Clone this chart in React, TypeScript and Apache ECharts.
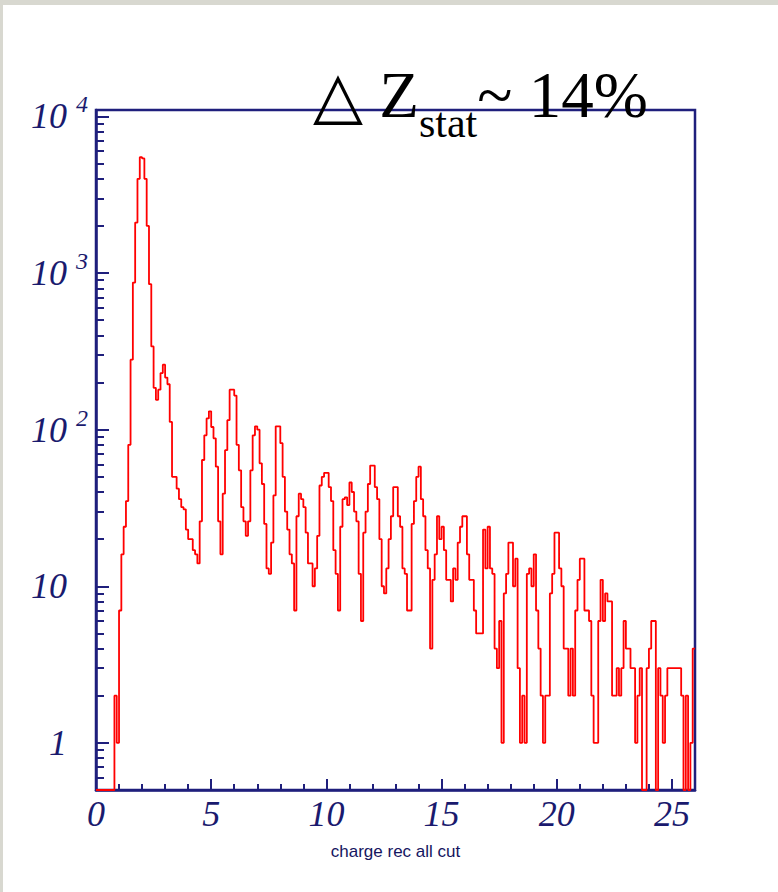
import React, { useEffect, useRef } from "react";
import * as echarts from "echarts";

// Histogram of reconstructed charge, bins of width 0.1 from 0 to 26
const BIN_WIDTH = 0.1;
const X_MIN = 0;
const X_MAX = 26;
const Y_MIN = 0.5;
const Y_MAX = 11000;

const countsZ0to5 = [
  0, 0, 0, 0, 0, 0, 0, 0, 2, 1,
  7, 16, 24, 35, 80, 280, 870, 2100, 4000, 5500,
  5400, 4000, 2000, 850, 340, 185, 155, 180, 230, 260,
  215, 195, 112, 50, 50, 42, 36, 32, 31, 23,
  20, 20, 17, 16, 14, 26, 64, 92, 118, 131,
];
const countsZ5to10 = [
  104, 88, 58, 26, 16, 39, 74, 115, 180, 180,
  165, 80, 55, 32, 26, 21, 26, 55, 92, 105,
  100, 61, 45, 25, 13, 12, 19, 38, 105, 105,
  82, 50, 30, 23, 16, 14, 7, 28, 39, 36,
  32, 22, 14, 14, 10, 13, 21, 44, 50, 53,
];
const countsZ10to15 = [
  53, 43, 35, 17, 12, 7, 24, 36, 37, 33,
  46, 40, 30, 26, 12, 6, 22, 30, 45, 59,
  59, 43, 36, 20, 10, 9, 13, 20, 28, 43,
  43, 28, 24, 13, 12, 7, 7, 25, 35, 50,
  58, 36, 28, 17, 13, 4, 11, 16, 28, 20,
];
const countsZ15to20 = [
  24, 17, 11, 11, 8, 13, 11, 19, 24, 28,
  28, 16, 11, 11, 7, 5, 5, 5, 23, 13,
  24, 13, 12, 4, 3, 6, 1, 9, 12, 19,
  19, 10, 15, 3, 1, 2, 1, 12, 13, 10,
  16, 7, 4, 2, 1, 2, 2, 9, 12, 22,
];
const countsZ20to26 = [
  22, 13, 10, 4, 4, 2, 4, 2, 7, 11,
  15, 15, 7, 7, 6, 2, 1, 1, 6, 11,
  6, 9, 8, 8, 2, 2, 3, 2, 3, 6,
  4, 4, 3, 3, 1, 2, 3, 0, 0, 3,
  4, 6, 6, 0, 3, 2, 1, 2, 3, 3,
  3, 3, 3, 3, 2, 0, 2, 0, 1, 4,
];

const xLabelValues = [0, 5, 10, 15, 20, 25];
const xMinorTickValues = [
  0, 1, 2, 3, 4, 5, 6, 7, 8, 9, 10, 11, 12, 13, 14, 15, 16, 17, 18, 19, 20,
  21, 22, 23, 24, 25, 26,
];
const yMajorTickValues = [1, 10, 100, 1000, 10000];
const yExponentLabelValues = [100, 1000, 10000];
const yMinorTickValues = [
  0.5, 0.6, 0.7, 0.8, 0.9,
  2, 3, 4, 5, 6, 7, 8, 9,
  20, 30, 40, 50, 60, 70, 80, 90,
  200, 300, 400, 500, 600, 700, 800, 900,
  2000, 3000, 4000, 5000, 6000, 7000, 8000, 9000,
];

const titleDelta = "△ Z";
const titleSub = "stat";
const titleRest = "~ 14%";
const xAxisName = "charge rec all cut";

const NAVY = "#1f1f7c";
const LABEL = "#1a1a6e";

export default function App() {
  const ref = useRef<HTMLDivElement>(null);

  useEffect(() => {
    document.body.style.margin = "0";
    if (!ref.current) return;
    const chart = echarts.init(ref.current, undefined, { renderer: "svg" });

    const counts = [
      ...countsZ0to5,
      ...countsZ5to10,
      ...countsZ10to15,
      ...countsZ15to20,
      ...countsZ20to26,
    ];
    const points: number[][] = counts.map((c, i) => [
      Math.round(i * BIN_WIDTH * 10) / 10,
      Math.max(c, Y_MIN),
    ]);
    points.push([X_MAX, Math.max(counts[counts.length - 1], Y_MIN)]);

    const exponentOf = (v: number) => Math.round(Math.log10(v));

    chart.setOption({
      animation: false,
      backgroundColor: "#ffffff",
      title: {
        text: `{n|${titleDelta}}{s|${titleSub}}{n|${titleRest}}`,
        left: 313,
        top: 62,
        padding: 0,
        textStyle: {
          fontWeight: "normal",
          rich: {
            n: {
              fontFamily: "Liberation Serif",
              fontWeight: "normal",
              fontSize: 65,
              lineHeight: 65,
              color: "#000000",
              verticalAlign: "top",
            },
            s: {
              fontFamily: "Liberation Serif",
              fontWeight: "normal",
              fontSize: 42,
              lineHeight: 42,
              color: "#000000",
              verticalAlign: "top",
              padding: [40, 0, 0, 0],
            },
          },
        },
      },
      graphic: [
        {
          type: "rect",
          silent: true,
          shape: { x: 0, y: 0, width: 778, height: 5 },
          style: { fill: "#d8d8d0" },
        },
        {
          type: "rect",
          silent: true,
          shape: { x: 0, y: 0, width: 3, height: 892 },
          style: { fill: "#d8d8d0" },
        },
      ],
      grid: {
        left: 96,
        right: 83,
        top: 110,
        bottom: 102,
        show: true,
        borderColor: NAVY,
        borderWidth: 2.5,
        backgroundColor: "transparent",
        containLabel: false,
      },
      xAxis: [
        {
          type: "value",
          min: X_MIN,
          max: X_MAX,
          position: "bottom",
          name: xAxisName,
          nameLocation: "middle",
          nameGap: 53,
          nameTextStyle: {
            fontFamily: "Liberation Sans",
            fontSize: 17,
            color: "#15155f",
          },
          axisLine: { show: true, lineStyle: { color: NAVY, width: 2.5 } },
          axisTick: {
            show: true,
            inside: true,
            length: 11,
            customValues: xLabelValues,
            lineStyle: { color: NAVY, width: 2 },
          },
          axisLabel: {
            show: true,
            customValues: xLabelValues,
            margin: 6,
            fontFamily: "Liberation Serif",
            fontStyle: "italic",
            fontSize: 36,
            color: LABEL,
          },
          splitLine: { show: false },
        },
        {
          type: "value",
          min: X_MIN,
          max: X_MAX,
          position: "bottom",
          axisLine: { show: false },
          axisTick: {
            show: true,
            inside: true,
            length: 6,
            customValues: xMinorTickValues,
            lineStyle: { color: NAVY, width: 2 },
          },
          axisLabel: { show: false },
          splitLine: { show: false },
        },
      ],
      yAxis: [
        {
          type: "log",
          logBase: 10,
          min: Y_MIN,
          max: Y_MAX,
          position: "left",
          axisLine: { show: true, lineStyle: { color: NAVY, width: 2.5 } },
          axisTick: {
            show: true,
            inside: true,
            length: 13,
            customValues: yMajorTickValues,
            lineStyle: { color: NAVY, width: 2 },
          },
          axisLabel: {
            show: true,
            customValues: yMajorTickValues,
            margin: 29,
            formatter: (v: number) => (exponentOf(v) === 0 ? "1" : "10"),
            fontFamily: "Liberation Serif",
            fontStyle: "italic",
            fontSize: 36,
            color: LABEL,
            verticalAlign: "middle",
            padding: [8, 0, 0, 0],
          },
          splitLine: { show: false },
        },
        {
          type: "log",
          logBase: 10,
          min: Y_MIN,
          max: Y_MAX,
          position: "left",
          axisLine: { show: false },
          axisTick: {
            show: true,
            inside: true,
            length: 8,
            customValues: yMinorTickValues,
            lineStyle: { color: NAVY, width: 2 },
          },
          axisLabel: {
            show: true,
            customValues: yExponentLabelValues,
            margin: 8,
            formatter: (v: number) => String(exponentOf(v)),
            fontFamily: "Liberation Serif",
            fontStyle: "italic",
            fontSize: 24,
            color: LABEL,
            verticalAlign: "bottom",
          },
          splitLine: { show: false },
        },
      ],
      series: [
        {
          type: "line",
          name: "charge",
          step: "end",
          xAxisIndex: 0,
          yAxisIndex: 0,
          data: points,
          symbol: "none",
          showSymbol: false,
          lineStyle: { color: "#ff0000", width: 1.8 },
          z: 3,
        },
      ],
    });

    return () => chart.dispose();
  }, []);

  return (
    <div
      ref={ref}
      style={{ position: "absolute", left: 0, top: 0, width: 778, height: 892 }}
    />
  );
}
